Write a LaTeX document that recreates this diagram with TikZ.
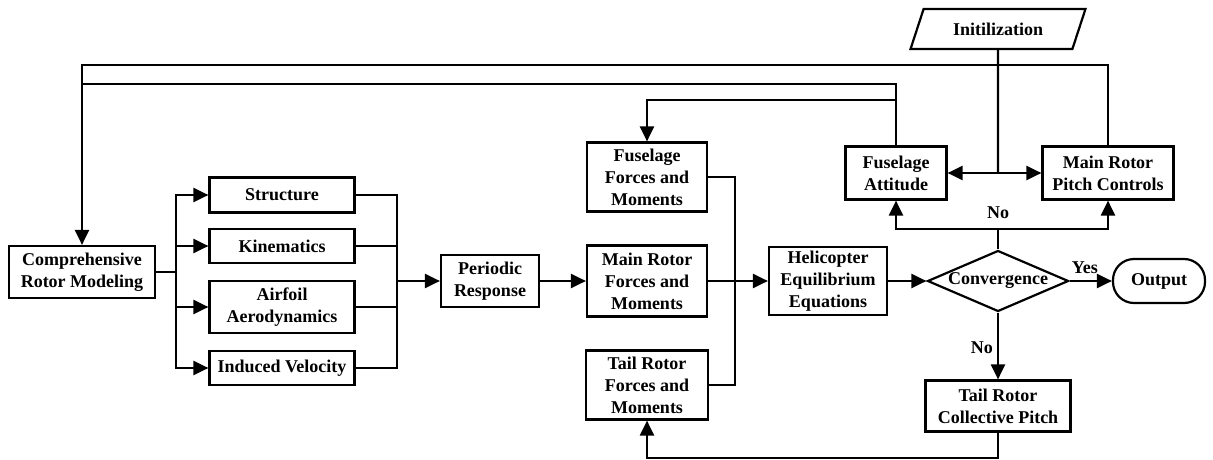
\documentclass[tikz,border=0pt]{standalone}
\usepackage{fontspec}
\setmainfont{Liberation Serif}
\usetikzlibrary{arrows.meta,shapes.geometric}
\begin{document}
\begin{tikzpicture}[x=1pt,y=-1pt,
  every node/.style={font=\fontsize{18}{22}\selectfont\bfseries, align=center, inner sep=0pt},
  box/.style={draw, line width=2.2pt, rectangle},
  arr/.style={line width=2.2pt, -{Triangle[length=15pt,width=14pt]}},
  ln/.style={line width=2.2pt},
  lab/.style={font=\fontsize{18}{22}\selectfont\bfseries}]
\useasboundingbox (0,0) rectangle (1213,460);
% nodes
\node[box, minimum width=146pt, minimum height=52pt] (crm) at (82,272) {Comprehensive\\Rotor Modeling};
\node[box, minimum width=145pt, minimum height=35pt] (struct) at (282,195) {Structure};
\node[box, minimum width=145pt, minimum height=34pt] (kin) at (282,246) {Kinematics};
\node[box, minimum width=145pt, minimum height=52pt] (airf) at (282,307) {Airfoil\\Aerodynamics};
\node[box, minimum width=145pt, minimum height=34pt] (ind) at (282,368) {Induced Velocity};
\node[box, minimum width=98pt, minimum height=52pt] (per) at (490,281) {Periodic\\Response};
\node[box, minimum width=120pt, minimum height=69pt] (ff) at (647,177) {Fuselage\\Forces and\\Moments};
\node[box, minimum width=120pt, minimum height=71pt] (mr) at (647,281) {Main Rotor\\Forces and\\Moments};
\node[box, minimum width=122pt, minimum height=69pt] (tr) at (647,385) {Tail Rotor\\Forces and\\Moments};
\node[box, minimum width=118pt, minimum height=68pt] (heq) at (828,281) {Helicopter\\Equilibrium\\Equations};
\node[draw, line width=2.2pt, diamond, aspect=2.3, minimum width=141pt, minimum height=61pt] (conv) at (998,281) {Convergence};
\node[draw, line width=2.2pt, rounded corners=21pt, minimum width=92pt, minimum height=44pt] (out) at (1159,281) {Output};
\node[box, minimum width=145pt, minimum height=51pt] (trcp) at (998,406) {Tail Rotor\\Collective Pitch};
\node[box, minimum width=101pt, minimum height=53pt] (fa) at (896,173) {Fuselage\\Attitude};
\node[box, minimum width=131pt, minimum height=53pt] (mrpc) at (1108,173) {Main Rotor\\Pitch Controls};
\node[draw, line width=2.2pt, trapezium, trapezium stretches=true, trapezium left angle=58, trapezium right angle=122, minimum width=175pt, minimum height=40pt] (init) at (998,29) {Initilization};
% coordinates
\coordinate (split) at (176,272);
\coordinate (join) at (397,281);
\coordinate (join2) at (735,281);
\coordinate (nojoin) at (998,229);
\coordinate (initjoin) at (998,173);
\coordinate (tl) at (82,65);
\coordinate (tl2) at (82,84);
\coordinate (ffline) at (896,100);
\coordinate (bot) at (998,458);
% connectors
\draw[ln] (crm.east) -- (split);
\draw[arr] (split) |- (struct.west);
\draw[arr] (split) |- (kin.west);
\draw[arr] (split) |- (airf.west);
\draw[arr] (split) |- (ind.west);
\draw[ln] (struct.east) -| (join);
\draw[ln] (kin.east) -| (join);
\draw[ln] (airf.east) -| (join);
\draw[ln] (ind.east) -| (join);
\draw[arr] (join) -- (per.west);
\draw[arr] (per.east) -- (mr.west);
\draw[ln] (ff.east) -| (join2);
\draw[ln] (tr.east) -| (join2);
\draw[arr] (mr.east) -- (heq.west);
\draw[arr] (heq.east) -- (conv.west);
\draw[arr] (conv.east) -- node[lab, above=6pt, xshift=-6pt] (yes) {Yes} (out.west);
\draw[arr] (conv.south) -- node[lab, left=4pt, yshift=-2pt] (no2) {No} (trcp.north);
\draw[arr] (trcp.south) -- (bot) -| (tr.south);
\draw[ln] (conv.north) -- (nojoin);
\draw[arr] (nojoin) -| (fa.south);
\draw[arr] (nojoin) -| (mrpc.south);
\node[lab] (no1) at (998,213) {No};
\draw[ln] (init.south) -- (initjoin);
\draw[arr] (initjoin) -- (fa.east);
\draw[arr] (initjoin) -- (mrpc.west);
\draw[arr] (mrpc.north) |- (tl) -- (crm.north);
\draw[ln] (fa.north) |- (tl2);
\draw[arr] (ffline) -| (ff.north);
\end{tikzpicture}
\end{document}
